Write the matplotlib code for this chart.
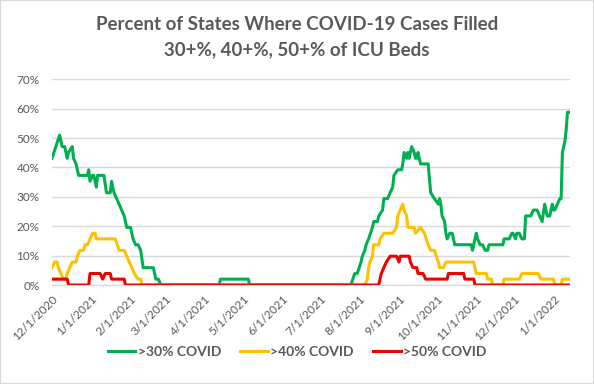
import pandas as pd
import matplotlib
matplotlib.use("Agg")
import matplotlib.pyplot as plt
from matplotlib.patches import Rectangle

plt.rcParams['font.family'] = ['Lato', 'DejaVu Sans']

# Start of series; vertices given as day offsets from here
start = pd.Timestamp("2020-12-01")
last_day = 409

# >30% COVID (percent of states)
green_days = [0, 6, 8, 10, 12, 13, 16, 17, 19, 21, 28, 29, 30, 32, 33, 35, 36, 41, 43, 46,
              47, 49, 51, 53, 55, 57, 59, 62, 64, 66, 68, 70, 72, 80, 82, 84, 86,
              132, 133, 155, 156,
              236, 239, 241, 244, 245, 247, 248, 250, 253, 254, 257, 258, 261, 262, 265,
              267, 269, 270, 273, 276, 277, 278, 280, 281, 282, 283, 284, 286, 287, 288,
              289, 291, 293, 297, 299, 302, 305, 306, 307, 308, 310, 311, 312, 314, 316,
              318, 331, 332, 333, 335, 336, 338, 340, 342, 344, 345, 356, 357, 361, 363,
              364, 366, 367, 369, 371, 373, 374, 378, 380, 383, 385, 387, 389, 391, 393,
              395, 396, 397, 399, 401, 402, 403, 404, 405, 406, 407, 409]
green_pct = [43.1, 51.0, 47.1, 47.1, 43.1, 45.1, 47.1, 43.1, 41.2, 37.3, 37.3, 39.2, 35.3, 37.3, 37.3, 33.3, 37.3, 37.3, 31.4, 31.4,
             35.3, 31.4, 29.4, 27.5, 25.5, 23.5, 19.6, 19.6, 15.7, 13.7, 13.7, 11.8, 5.9, 5.9, 2.0, 2.0, 0,
             0, 2.0, 2.0, 0,
             0, 3.9, 3.9, 7.8, 9.8, 11.8, 13.7, 15.7, 19.6, 21.6, 21.6, 23.5, 25.5, 29.4, 29.4,
             31.4, 33.3, 37.3, 39.2, 39.2, 41.2, 45.1, 43.1, 45.1, 43.1, 45.1, 47.1, 45.1, 43.1, 43.1,
             45.1, 41.2, 41.2, 41.2, 31.4, 29.4, 27.5, 29.4, 27.5, 23.5, 21.6, 17.6, 15.7, 17.6, 17.6,
             13.7, 13.7, 11.8, 13.7, 17.6, 15.7, 13.7, 13.7, 11.8, 11.8, 13.7, 13.7, 15.7, 15.7, 17.6,
             17.6, 15.7, 17.6, 17.6, 15.7, 15.7, 23.5, 23.5, 25.5, 25.5, 23.5, 21.6, 27.5, 23.5, 23.5,
             27.5, 25.5, 25.5, 27.5, 29.4, 29.4, 45.1, 47.1, 49.0, 52.9, 58.8, 58.8]

# >40% COVID
yellow_days = [0, 2, 4, 5, 7, 9, 11, 12, 14, 16, 19, 20, 22, 25, 26, 28, 30, 32, 34, 35,
               50, 53, 57, 59, 61, 63, 65, 68, 70, 71,
               247, 249, 250, 251, 253, 254, 258, 259, 262, 269, 272, 273, 277, 278, 280,
               281, 286, 287, 291, 294, 297, 299, 302, 305, 306, 309, 311, 333, 335, 343,
               344, 347, 348, 356, 357, 369, 371, 384, 386, 396, 397, 402, 403, 409]
yellow_pct = [5.9, 7.8, 7.8, 5.9, 3.9, 2.0, 2.0, 3.9, 5.9, 7.8, 7.8, 9.8, 11.8, 11.8, 13.7, 13.7, 15.7, 17.6, 17.6, 15.7,
              15.7, 11.8, 11.8, 9.8, 7.8, 5.9, 3.9, 2.0, 2.0, 0,
              0, 2.0, 5.9, 7.8, 9.8, 13.7, 13.7, 15.7, 17.6, 17.6, 19.6, 23.5, 27.5, 25.5, 23.5,
              19.6, 19.6, 17.6, 19.6, 17.6, 13.7, 11.8, 11.8, 7.8, 5.9, 5.9, 7.8, 7.8, 3.9, 3.9,
              2.0, 2.0, 0, 0, 2.0, 2.0, 3.9, 3.9, 2.0, 2.0, 0, 0, 2.0, 2.0]

# >50% COVID
red_days = [0, 12, 13, 29, 30, 38, 40, 42, 46, 47, 57, 58,
            258, 259, 260, 262, 264, 267, 272, 274, 275, 282, 283, 285, 288, 289, 293,
            295, 312, 313, 325, 326, 333, 334, 409]
red_pct = [2.0, 2.0, 0, 0, 3.9, 3.9, 2.0, 3.9, 3.9, 2.0, 2.0, 0,
           0, 2.0, 3.9, 5.9, 7.8, 9.8, 9.8, 7.8, 9.8, 9.8, 7.8, 5.9, 5.9, 3.9, 3.9,
           2.0, 2.0, 3.9, 3.9, 2.0, 2.0, 0, 0]

tick_labels = ['12/1/2020', '1/1/2021', '2/1/2021', '3/1/2021', '4/1/2021', '5/1/2021',
               '6/1/2021', '7/1/2021', '8/1/2021', '9/1/2021', '10/1/2021', '11/1/2021',
               '12/1/2021', '1/1/2022']
series_names = ['>30% COVID', '>40% COVID', '>50% COVID']


def to_dates(days):
    return start + pd.to_timedelta(days, unit="D")


fig = plt.figure(figsize=(5.94, 3.84), dpi=100)
ax = fig.add_axes([52 / 594, 1 - 285 / 384, (570 - 52) / 594, (285 - 79.3) / 384])

ax.plot(to_dates(green_days), green_pct, color='#00B050', lw=2.2, label=series_names[0])
ax.plot(to_dates(yellow_days), yellow_pct, color='#FFC000', lw=2.2, label=series_names[1])
ax.plot(to_dates(red_days), red_pct, color='#EE0000', lw=2.2, label=series_names[2])

ax.set_xlim(start, to_dates([last_day])[0])
ax.set_ylim(0, 70)
ax.set_yticks(range(0, 71, 10))
ax.set_yticklabels([f"{v}%" for v in range(0, 71, 10)])
ax.set_xticks(pd.to_datetime(tick_labels, format="%m/%d/%Y"))
ax.set_xticklabels(tick_labels, rotation=45, ha='right', va='top', rotation_mode='anchor')

ax.grid(axis='y', color='#D9D9D9', lw=1)
ax.set_axisbelow(True)
for s in ['top', 'right', 'left']:
    ax.spines[s].set_visible(False)
ax.spines['bottom'].set_color('#D9D9D9')
ax.tick_params(length=0, colors='#595959', labelsize=8.5)
ax.tick_params(axis='x', pad=6)
ax.tick_params(axis='y', pad=9)

fig.text(0.5, 1 - 25 / 384, "Percent of States Where COVID-19 Cases Filled",
         ha='center', va='center', fontsize=13.5, fontweight='bold', color='#595959')
fig.text(0.5, 1 - 50 / 384, "30+%, 40+%, 50+% of ICU Beds",
         ha='center', va='center', fontsize=13.5, fontweight='bold', color='#595959')

leg = fig.legend(loc='center', bbox_to_anchor=(0.5, 1 - 352 / 384), ncol=3, frameon=False,
                 handlelength=2.0, columnspacing=1.4, handletextpad=0.15,
                 prop={'weight': 'bold', 'size': 10})
for t in leg.get_texts():
    t.set_color('#595959')

fig.patches.append(Rectangle((0, 0), 1, 1, transform=fig.transFigure, fill=False,
                             edgecolor='#D9D9D9', lw=1.5))

plt.savefig("out.png", dpi=100)
